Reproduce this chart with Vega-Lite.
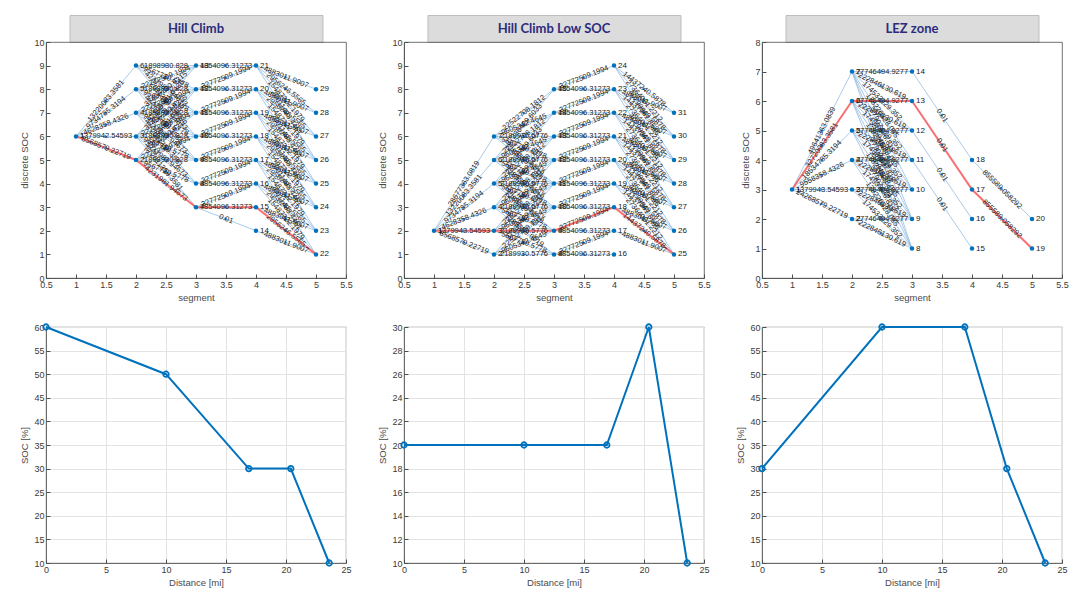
{
  "$schema": "https://vega.github.io/schema/vega-lite/v6.json",
  "background": "white",
  "padding": {"left": 19, "top": 14, "right": 5, "bottom": 5},
  "spacing": 24,
  "datasets": {
    "nodes": [
      {"p":"HC","s":1,"v":6,"id":1},
      {"p":"HC","s":2,"v":5,"id":2},{"p":"HC","s":2,"v":6,"id":3},{"p":"HC","s":2,"v":7,"id":4},{"p":"HC","s":2,"v":8,"id":5},{"p":"HC","s":2,"v":9,"id":6},
      {"p":"HC","s":3,"v":3,"id":7},{"p":"HC","s":3,"v":4,"id":8},{"p":"HC","s":3,"v":5,"id":9},{"p":"HC","s":3,"v":6,"id":10},{"p":"HC","s":3,"v":7,"id":11},{"p":"HC","s":3,"v":8,"id":12},{"p":"HC","s":3,"v":9,"id":13},
      {"p":"HC","s":4,"v":2,"id":14},{"p":"HC","s":4,"v":3,"id":15},{"p":"HC","s":4,"v":4,"id":16},{"p":"HC","s":4,"v":5,"id":17},{"p":"HC","s":4,"v":6,"id":18},{"p":"HC","s":4,"v":7,"id":19},{"p":"HC","s":4,"v":8,"id":20},{"p":"HC","s":4,"v":9,"id":21},
      {"p":"HC","s":5,"v":1,"id":22},{"p":"HC","s":5,"v":2,"id":23},{"p":"HC","s":5,"v":3,"id":24},{"p":"HC","s":5,"v":4,"id":25},{"p":"HC","s":5,"v":5,"id":26},{"p":"HC","s":5,"v":6,"id":27},{"p":"HC","s":5,"v":7,"id":28},{"p":"HC","s":5,"v":8,"id":29},
      {"p":"LS","s":1,"v":2,"id":1},
      {"p":"LS","s":2,"v":1,"id":2},{"p":"LS","s":2,"v":2,"id":3},{"p":"LS","s":2,"v":3,"id":4},{"p":"LS","s":2,"v":4,"id":5},{"p":"LS","s":2,"v":5,"id":6},{"p":"LS","s":2,"v":6,"id":7},
      {"p":"LS","s":3,"v":1,"id":8},{"p":"LS","s":3,"v":2,"id":9},{"p":"LS","s":3,"v":3,"id":10},{"p":"LS","s":3,"v":4,"id":11},{"p":"LS","s":3,"v":5,"id":12},{"p":"LS","s":3,"v":6,"id":13},{"p":"LS","s":3,"v":7,"id":14},{"p":"LS","s":3,"v":8,"id":15},
      {"p":"LS","s":4,"v":1,"id":16},{"p":"LS","s":4,"v":2,"id":17},{"p":"LS","s":4,"v":3,"id":18},{"p":"LS","s":4,"v":4,"id":19},{"p":"LS","s":4,"v":5,"id":20},{"p":"LS","s":4,"v":6,"id":21},{"p":"LS","s":4,"v":7,"id":22},{"p":"LS","s":4,"v":8,"id":23},{"p":"LS","s":4,"v":9,"id":24},
      {"p":"LS","s":5,"v":1,"id":25},{"p":"LS","s":5,"v":2,"id":26},{"p":"LS","s":5,"v":3,"id":27},{"p":"LS","s":5,"v":4,"id":28},{"p":"LS","s":5,"v":5,"id":29},{"p":"LS","s":5,"v":6,"id":30},{"p":"LS","s":5,"v":7,"id":31},
      {"p":"LEZ","s":1,"v":3,"id":1},
      {"p":"LEZ","s":2,"v":2,"id":2},{"p":"LEZ","s":2,"v":3,"id":3},{"p":"LEZ","s":2,"v":4,"id":4},{"p":"LEZ","s":2,"v":5,"id":5},{"p":"LEZ","s":2,"v":6,"id":6},{"p":"LEZ","s":2,"v":7,"id":7},
      {"p":"LEZ","s":3,"v":1,"id":8},{"p":"LEZ","s":3,"v":2,"id":9},{"p":"LEZ","s":3,"v":3,"id":10},{"p":"LEZ","s":3,"v":4,"id":11},{"p":"LEZ","s":3,"v":5,"id":12},{"p":"LEZ","s":3,"v":6,"id":13},{"p":"LEZ","s":3,"v":7,"id":14},
      {"p":"LEZ","s":4,"v":1,"id":15},{"p":"LEZ","s":4,"v":2,"id":16},{"p":"LEZ","s":4,"v":3,"id":17},{"p":"LEZ","s":4,"v":4,"id":18},
      {"p":"LEZ","s":5,"v":1,"id":19},{"p":"LEZ","s":5,"v":2,"id":20}
    ],
    "edges": [
      {"p":"HC","x1":1,"y1":6,"x2":2,"y2":5,"w":"8568579.22719"},
      {"p":"HC","x1":1,"y1":6,"x2":2,"y2":6,"w":"1379942.54593"},
      {"p":"HC","x1":1,"y1":6,"x2":2,"y2":7,"w":"4628358.4326"},
      {"p":"HC","x1":1,"y1":6,"x2":2,"y2":8,"w":"9734785.3194"},
      {"p":"HC","x1":1,"y1":6,"x2":2,"y2":9,"w":"13220083.3581"},
      {"p":"HC","x1":2,"y1":5,"x2":3,"y2":3,"w":"4231981.94673"},
      {"p":"HC","x1":2,"y1":5,"x2":3,"y2":4,"w":"9567720.5778"},
      {"p":"HC","x1":2,"y1":5,"x2":3,"y2":5,"w":"1898930.828"},
      {"p":"HC","x1":2,"y1":5,"x2":3,"y2":6,"w":"22772509.1994"},
      {"p":"HC","x1":2,"y1":5,"x2":3,"y2":7,"w":"37486230.6215"},
      {"p":"HC","x1":2,"y1":5,"x2":3,"y2":8,"w":"52199951.0436"},
      {"p":"HC","x1":2,"y1":6,"x2":3,"y2":3,"w":"2011356.3581"},
      {"p":"HC","x1":2,"y1":6,"x2":3,"y2":4,"w":"4231981.94673"},
      {"p":"HC","x1":2,"y1":6,"x2":3,"y2":5,"w":"9567720.5778"},
      {"p":"HC","x1":2,"y1":6,"x2":3,"y2":6,"w":"1898930.828"},
      {"p":"HC","x1":2,"y1":6,"x2":3,"y2":7,"w":"22772509.1994"},
      {"p":"HC","x1":2,"y1":6,"x2":3,"y2":8,"w":"37486230.6215"},
      {"p":"HC","x1":2,"y1":6,"x2":3,"y2":9,"w":"52199951.0436"},
      {"p":"HC","x1":2,"y1":7,"x2":3,"y2":4,"w":"2011356.3581"},
      {"p":"HC","x1":2,"y1":7,"x2":3,"y2":5,"w":"4231981.94673"},
      {"p":"HC","x1":2,"y1":7,"x2":3,"y2":6,"w":"9567720.5778"},
      {"p":"HC","x1":2,"y1":7,"x2":3,"y2":7,"w":"1898930.828"},
      {"p":"HC","x1":2,"y1":7,"x2":3,"y2":8,"w":"22772509.1994"},
      {"p":"HC","x1":2,"y1":7,"x2":3,"y2":9,"w":"37486230.6215"},
      {"p":"HC","x1":2,"y1":8,"x2":3,"y2":5,"w":"2011356.3581"},
      {"p":"HC","x1":2,"y1":8,"x2":3,"y2":6,"w":"4231981.94673"},
      {"p":"HC","x1":2,"y1":8,"x2":3,"y2":7,"w":"9567720.5778"},
      {"p":"HC","x1":2,"y1":8,"x2":3,"y2":8,"w":"1898930.828"},
      {"p":"HC","x1":2,"y1":8,"x2":3,"y2":9,"w":"22772509.1994"},
      {"p":"HC","x1":2,"y1":9,"x2":3,"y2":6,"w":"2011356.3581"},
      {"p":"HC","x1":2,"y1":9,"x2":3,"y2":7,"w":"4231981.94673"},
      {"p":"HC","x1":2,"y1":9,"x2":3,"y2":8,"w":"9567720.5778"},
      {"p":"HC","x1":2,"y1":9,"x2":3,"y2":9,"w":"1898930.828"},
      {"p":"HC","x1":3,"y1":3,"x2":4,"y2":2,"w":"0.01"},
      {"p":"HC","x1":3,"y1":3,"x2":4,"y2":3,"w":"4854096.31273"},
      {"p":"HC","x1":3,"y1":3,"x2":4,"y2":4,"w":"32772509.1994"},
      {"p":"HC","x1":3,"y1":4,"x2":4,"y2":4,"w":"4854096.31273"},
      {"p":"HC","x1":3,"y1":4,"x2":4,"y2":5,"w":"32772509.1994"},
      {"p":"HC","x1":3,"y1":5,"x2":4,"y2":5,"w":"4854096.31273"},
      {"p":"HC","x1":3,"y1":5,"x2":4,"y2":6,"w":"32772509.1994"},
      {"p":"HC","x1":3,"y1":6,"x2":4,"y2":6,"w":"4854096.31273"},
      {"p":"HC","x1":3,"y1":6,"x2":4,"y2":7,"w":"32772509.1994"},
      {"p":"HC","x1":3,"y1":7,"x2":4,"y2":7,"w":"4854096.31273"},
      {"p":"HC","x1":3,"y1":7,"x2":4,"y2":8,"w":"32772509.1994"},
      {"p":"HC","x1":3,"y1":8,"x2":4,"y2":8,"w":"4854096.31273"},
      {"p":"HC","x1":3,"y1":8,"x2":4,"y2":9,"w":"32772509.1994"},
      {"p":"HC","x1":3,"y1":9,"x2":4,"y2":9,"w":"4854096.31273"},
      {"p":"HC","x1":4,"y1":2,"x2":5,"y2":1,"w":"4883011.9007"},
      {"p":"HC","x1":4,"y1":3,"x2":5,"y2":2,"w":"4883011.9007"},
      {"p":"HC","x1":4,"y1":3,"x2":5,"y2":1,"w":"2956246.5565"},
      {"p":"HC","x1":4,"y1":4,"x2":5,"y2":3,"w":"4883011.9007"},
      {"p":"HC","x1":4,"y1":4,"x2":5,"y2":2,"w":"2956246.5565"},
      {"p":"HC","x1":4,"y1":4,"x2":5,"y2":1,"w":"15487322.1979"},
      {"p":"HC","x1":4,"y1":5,"x2":5,"y2":4,"w":"4883011.9007"},
      {"p":"HC","x1":4,"y1":5,"x2":5,"y2":3,"w":"2956246.5565"},
      {"p":"HC","x1":4,"y1":5,"x2":5,"y2":2,"w":"15487322.1979"},
      {"p":"HC","x1":4,"y1":5,"x2":5,"y2":1,"w":"28011433.4461"},
      {"p":"HC","x1":4,"y1":6,"x2":5,"y2":5,"w":"4883011.9007"},
      {"p":"HC","x1":4,"y1":6,"x2":5,"y2":4,"w":"2956246.5565"},
      {"p":"HC","x1":4,"y1":6,"x2":5,"y2":3,"w":"15487322.1979"},
      {"p":"HC","x1":4,"y1":6,"x2":5,"y2":2,"w":"28011433.4461"},
      {"p":"HC","x1":4,"y1":7,"x2":5,"y2":6,"w":"4883011.9007"},
      {"p":"HC","x1":4,"y1":7,"x2":5,"y2":5,"w":"2956246.5565"},
      {"p":"HC","x1":4,"y1":7,"x2":5,"y2":4,"w":"15487322.1979"},
      {"p":"HC","x1":4,"y1":7,"x2":5,"y2":3,"w":"28011433.4461"},
      {"p":"HC","x1":4,"y1":8,"x2":5,"y2":7,"w":"4883011.9007"},
      {"p":"HC","x1":4,"y1":8,"x2":5,"y2":6,"w":"2956246.5565"},
      {"p":"HC","x1":4,"y1":8,"x2":5,"y2":5,"w":"15487322.1979"},
      {"p":"HC","x1":4,"y1":8,"x2":5,"y2":4,"w":"28011433.4461"},
      {"p":"HC","x1":4,"y1":9,"x2":5,"y2":8,"w":"4883011.9007"},
      {"p":"HC","x1":4,"y1":9,"x2":5,"y2":7,"w":"2956246.5565"},
      {"p":"HC","x1":4,"y1":9,"x2":5,"y2":6,"w":"15487322.1979"},
      {"p":"HC","x1":4,"y1":9,"x2":5,"y2":5,"w":"28011433.4461"},

      {"p":"LS","x1":1,"y1":2,"x2":2,"y2":1,"w":"8568579.22719"},
      {"p":"LS","x1":1,"y1":2,"x2":2,"y2":2,"w":"1379943.54593"},
      {"p":"LS","x1":1,"y1":2,"x2":2,"y2":3,"w":"4628358.4326"},
      {"p":"LS","x1":1,"y1":2,"x2":2,"y2":4,"w":"9734785.3194"},
      {"p":"LS","x1":1,"y1":2,"x2":2,"y2":5,"w":"13220083.3581"},
      {"p":"LS","x1":1,"y1":2,"x2":2,"y2":6,"w":"28677363.0819"},
      {"p":"LS","x1":2,"y1":1,"x2":3,"y2":1,"w":"2189930.5776"},
      {"p":"LS","x1":2,"y1":1,"x2":3,"y2":2,"w":"9605342.4645"},
      {"p":"LS","x1":2,"y1":1,"x2":3,"y2":3,"w":"22522708.1812"},
      {"p":"LS","x1":2,"y1":1,"x2":3,"y2":4,"w":"37236429.6033"},
      {"p":"LS","x1":2,"y1":2,"x2":3,"y2":1,"w":"5567720.5778"},
      {"p":"LS","x1":2,"y1":2,"x2":3,"y2":2,"w":"2189930.5776"},
      {"p":"LS","x1":2,"y1":2,"x2":3,"y2":3,"w":"9605342.4645"},
      {"p":"LS","x1":2,"y1":2,"x2":3,"y2":4,"w":"22522708.1812"},
      {"p":"LS","x1":2,"y1":2,"x2":3,"y2":5,"w":"37236429.6033"},
      {"p":"LS","x1":2,"y1":3,"x2":3,"y2":1,"w":"1283359.0019"},
      {"p":"LS","x1":2,"y1":3,"x2":3,"y2":2,"w":"5567720.5778"},
      {"p":"LS","x1":2,"y1":3,"x2":3,"y2":3,"w":"2189930.5776"},
      {"p":"LS","x1":2,"y1":3,"x2":3,"y2":4,"w":"9605342.4645"},
      {"p":"LS","x1":2,"y1":3,"x2":3,"y2":5,"w":"22522708.1812"},
      {"p":"LS","x1":2,"y1":3,"x2":3,"y2":6,"w":"37236429.6033"},
      {"p":"LS","x1":2,"y1":4,"x2":3,"y2":2,"w":"1283359.0019"},
      {"p":"LS","x1":2,"y1":4,"x2":3,"y2":3,"w":"5567720.5778"},
      {"p":"LS","x1":2,"y1":4,"x2":3,"y2":4,"w":"2189930.5776"},
      {"p":"LS","x1":2,"y1":4,"x2":3,"y2":5,"w":"9605342.4645"},
      {"p":"LS","x1":2,"y1":4,"x2":3,"y2":6,"w":"22522708.1812"},
      {"p":"LS","x1":2,"y1":4,"x2":3,"y2":7,"w":"37236429.6033"},
      {"p":"LS","x1":2,"y1":5,"x2":3,"y2":3,"w":"1283359.0019"},
      {"p":"LS","x1":2,"y1":5,"x2":3,"y2":4,"w":"5567720.5778"},
      {"p":"LS","x1":2,"y1":5,"x2":3,"y2":5,"w":"2189930.5776"},
      {"p":"LS","x1":2,"y1":5,"x2":3,"y2":6,"w":"9605342.4645"},
      {"p":"LS","x1":2,"y1":5,"x2":3,"y2":7,"w":"22522708.1812"},
      {"p":"LS","x1":2,"y1":5,"x2":3,"y2":8,"w":"37236429.6033"},
      {"p":"LS","x1":2,"y1":6,"x2":3,"y2":4,"w":"1283359.0019"},
      {"p":"LS","x1":2,"y1":6,"x2":3,"y2":5,"w":"5567720.5778"},
      {"p":"LS","x1":2,"y1":6,"x2":3,"y2":6,"w":"2189930.5776"},
      {"p":"LS","x1":2,"y1":6,"x2":3,"y2":7,"w":"9605342.4645"},
      {"p":"LS","x1":2,"y1":6,"x2":3,"y2":8,"w":"22522708.1812"},
      {"p":"LS","x1":3,"y1":1,"x2":4,"y2":1,"w":"4854096.31273"},
      {"p":"LS","x1":3,"y1":1,"x2":4,"y2":2,"w":"32772509.1994"},
      {"p":"LS","x1":3,"y1":2,"x2":4,"y2":2,"w":"4854096.31273"},
      {"p":"LS","x1":3,"y1":2,"x2":4,"y2":3,"w":"32772509.1994"},
      {"p":"LS","x1":3,"y1":3,"x2":4,"y2":3,"w":"4854096.31273"},
      {"p":"LS","x1":3,"y1":3,"x2":4,"y2":4,"w":"32772509.1994"},
      {"p":"LS","x1":3,"y1":4,"x2":4,"y2":4,"w":"4854096.31273"},
      {"p":"LS","x1":3,"y1":4,"x2":4,"y2":5,"w":"32772509.1994"},
      {"p":"LS","x1":3,"y1":5,"x2":4,"y2":5,"w":"4854096.31273"},
      {"p":"LS","x1":3,"y1":5,"x2":4,"y2":6,"w":"32772509.1994"},
      {"p":"LS","x1":3,"y1":6,"x2":4,"y2":6,"w":"4854096.31273"},
      {"p":"LS","x1":3,"y1":6,"x2":4,"y2":7,"w":"32772509.1994"},
      {"p":"LS","x1":3,"y1":7,"x2":4,"y2":7,"w":"4854096.31273"},
      {"p":"LS","x1":3,"y1":7,"x2":4,"y2":8,"w":"32772509.1994"},
      {"p":"LS","x1":3,"y1":8,"x2":4,"y2":8,"w":"4854096.31273"},
      {"p":"LS","x1":3,"y1":8,"x2":4,"y2":9,"w":"32772509.1994"},
      {"p":"LS","x1":4,"y1":2,"x2":5,"y2":1,"w":"4883011.9007"},
      {"p":"LS","x1":4,"y1":3,"x2":5,"y2":2,"w":"4883011.9007"},
      {"p":"LS","x1":4,"y1":3,"x2":5,"y2":1,"w":"14437240.5878"},
      {"p":"LS","x1":4,"y1":4,"x2":5,"y2":3,"w":"4883011.9007"},
      {"p":"LS","x1":4,"y1":4,"x2":5,"y2":2,"w":"14437240.5878"},
      {"p":"LS","x1":4,"y1":4,"x2":5,"y2":1,"w":"27364051.2212"},
      {"p":"LS","x1":4,"y1":5,"x2":5,"y2":4,"w":"4883011.9007"},
      {"p":"LS","x1":4,"y1":5,"x2":5,"y2":3,"w":"14437240.5878"},
      {"p":"LS","x1":4,"y1":5,"x2":5,"y2":2,"w":"27364051.2212"},
      {"p":"LS","x1":4,"y1":5,"x2":5,"y2":1,"w":"40290861.8546"},
      {"p":"LS","x1":4,"y1":6,"x2":5,"y2":5,"w":"4883011.9007"},
      {"p":"LS","x1":4,"y1":6,"x2":5,"y2":4,"w":"14437240.5878"},
      {"p":"LS","x1":4,"y1":6,"x2":5,"y2":3,"w":"27364051.2212"},
      {"p":"LS","x1":4,"y1":6,"x2":5,"y2":2,"w":"40290861.8546"},
      {"p":"LS","x1":4,"y1":7,"x2":5,"y2":6,"w":"4883011.9007"},
      {"p":"LS","x1":4,"y1":7,"x2":5,"y2":5,"w":"14437240.5878"},
      {"p":"LS","x1":4,"y1":7,"x2":5,"y2":4,"w":"27364051.2212"},
      {"p":"LS","x1":4,"y1":7,"x2":5,"y2":3,"w":"40290861.8546"},
      {"p":"LS","x1":4,"y1":8,"x2":5,"y2":7,"w":"4883011.9007"},
      {"p":"LS","x1":4,"y1":8,"x2":5,"y2":6,"w":"14437240.5878"},
      {"p":"LS","x1":4,"y1":8,"x2":5,"y2":5,"w":"27364051.2212"},
      {"p":"LS","x1":4,"y1":8,"x2":5,"y2":4,"w":"40290861.8546"},
      {"p":"LS","x1":4,"y1":9,"x2":5,"y2":7,"w":"14437240.5878"},
      {"p":"LS","x1":4,"y1":9,"x2":5,"y2":6,"w":"27364051.2212"},
      {"p":"LS","x1":4,"y1":9,"x2":5,"y2":5,"w":"40290861.8546"},

      {"p":"LEZ","x1":1,"y1":3,"x2":2,"y2":2,"w":"24268579.22719"},
      {"p":"LEZ","x1":1,"y1":3,"x2":2,"y2":3,"w":"1379943.54593"},
      {"p":"LEZ","x1":1,"y1":3,"x2":2,"y2":4,"w":"9558358.4326"},
      {"p":"LEZ","x1":1,"y1":3,"x2":2,"y2":5,"w":"18534785.3194"},
      {"p":"LEZ","x1":1,"y1":3,"x2":2,"y2":6,"w":"32720083.3581"},
      {"p":"LEZ","x1":1,"y1":3,"x2":2,"y2":7,"w":"49641363.0839"},
      {"p":"LEZ","x1":2,"y1":2,"x2":3,"y2":2,"w":"27746494.9277"},
      {"p":"LEZ","x1":2,"y1":2,"x2":3,"y2":1,"w":"222846130.619"},
      {"p":"LEZ","x1":2,"y1":3,"x2":3,"y2":3,"w":"27746494.9277"},
      {"p":"LEZ","x1":2,"y1":3,"x2":3,"y2":2,"w":"222846130.619"},
      {"p":"LEZ","x1":2,"y1":3,"x2":3,"y2":1,"w":"174533229.352"},
      {"p":"LEZ","x1":2,"y1":4,"x2":3,"y2":4,"w":"27746494.9277"},
      {"p":"LEZ","x1":2,"y1":4,"x2":3,"y2":3,"w":"222846130.619"},
      {"p":"LEZ","x1":2,"y1":4,"x2":3,"y2":2,"w":"174533229.352"},
      {"p":"LEZ","x1":2,"y1":4,"x2":3,"y2":1,"w":"126220328.085"},
      {"p":"LEZ","x1":2,"y1":5,"x2":3,"y2":5,"w":"27746494.9277"},
      {"p":"LEZ","x1":2,"y1":5,"x2":3,"y2":4,"w":"222846130.619"},
      {"p":"LEZ","x1":2,"y1":5,"x2":3,"y2":3,"w":"174533229.352"},
      {"p":"LEZ","x1":2,"y1":5,"x2":3,"y2":2,"w":"126220328.085"},
      {"p":"LEZ","x1":2,"y1":5,"x2":3,"y2":1,"w":"77907426.818"},
      {"p":"LEZ","x1":2,"y1":6,"x2":3,"y2":6,"w":"27746494.9277"},
      {"p":"LEZ","x1":2,"y1":6,"x2":3,"y2":5,"w":"222846130.619"},
      {"p":"LEZ","x1":2,"y1":6,"x2":3,"y2":4,"w":"174533229.352"},
      {"p":"LEZ","x1":2,"y1":6,"x2":3,"y2":3,"w":"126220328.085"},
      {"p":"LEZ","x1":2,"y1":6,"x2":3,"y2":2,"w":"77907426.818"},
      {"p":"LEZ","x1":2,"y1":6,"x2":3,"y2":1,"w":"29594525.551"},
      {"p":"LEZ","x1":2,"y1":7,"x2":3,"y2":7,"w":"27746494.9277"},
      {"p":"LEZ","x1":2,"y1":7,"x2":3,"y2":6,"w":"222846130.619"},
      {"p":"LEZ","x1":2,"y1":7,"x2":3,"y2":5,"w":"174533229.352"},
      {"p":"LEZ","x1":2,"y1":7,"x2":3,"y2":4,"w":"126220328.085"},
      {"p":"LEZ","x1":2,"y1":7,"x2":3,"y2":3,"w":"77907426.818"},
      {"p":"LEZ","x1":2,"y1":7,"x2":3,"y2":2,"w":"29594525.551"},
      {"p":"LEZ","x1":2,"y1":7,"x2":3,"y2":1,"w":"0.01"},
      {"p":"LEZ","x1":3,"y1":7,"x2":4,"y2":4,"w":"0.01"},
      {"p":"LEZ","x1":3,"y1":6,"x2":4,"y2":3,"w":"0.01"},
      {"p":"LEZ","x1":3,"y1":5,"x2":4,"y2":2,"w":"0.01"},
      {"p":"LEZ","x1":3,"y1":4,"x2":4,"y2":1,"w":"0.01"},
      {"p":"LEZ","x1":4,"y1":4,"x2":5,"y2":2,"w":"855589.058292"},
      {"p":"LEZ","x1":4,"y1":3,"x2":5,"y2":1,"w":"855589.058292"}
    ],
    "path": [
      {"p":"HC","seg":1,"soc":6,"dist":0,"pct":60},
      {"p":"HC","seg":2,"soc":5,"dist":10,"pct":50},
      {"p":"HC","seg":3,"soc":3,"dist":16.9,"pct":30},
      {"p":"HC","seg":4,"soc":3,"dist":20.4,"pct":30},
      {"p":"HC","seg":5,"soc":1,"dist":23.6,"pct":10},
      {"p":"LS","seg":1,"soc":2,"dist":0,"pct":20},
      {"p":"LS","seg":2,"soc":2,"dist":10,"pct":20},
      {"p":"LS","seg":3,"soc":2,"dist":16.9,"pct":20},
      {"p":"LS","seg":4,"soc":3,"dist":20.4,"pct":30},
      {"p":"LS","seg":5,"soc":1,"dist":23.6,"pct":10},
      {"p":"LEZ","seg":1,"soc":3,"dist":0,"pct":30},
      {"p":"LEZ","seg":2,"soc":6,"dist":10,"pct":60},
      {"p":"LEZ","seg":3,"soc":6,"dist":16.9,"pct":60},
      {"p":"LEZ","seg":4,"soc":3,"dist":20.4,"pct":30},
      {"p":"LEZ","seg":5,"soc":1,"dist":23.6,"pct":10}
    ]
  },
  "hconcat": [
    {
      "spacing": 18,
      "vconcat": [
        {
          "spacing": 0, "center": true, "bounds": "flush",
          "vconcat": [
            {"width": 253, "height": 27, "data": {"values": [{"t": "Hill Climb"}]},
             "view": {"fill": "#dcdcdc", "stroke": "#bdbdbd", "strokeWidth": 1},
             "mark": {"type": "text", "font": "Lato", "fontWeight": "bold", "fontSize": 13, "color": "#2c2c7c"},
             "encoding": {"text": {"field": "t"}}},
            {"width": 300, "height": 236,
             "layer": [
               {"data": {"name": "edges"}, "transform": [{"filter": "datum.p == 'HC'"}],
                "mark": {"type": "rule", "color": "#93bde3", "strokeWidth": 0.8},
                "encoding": {
                  "x": {"field": "x1", "type": "quantitative", "title": "segment", "scale": {"domain": [0.5, 5.5]}, "axis": {"values": [0.5,1,1.5,2,2.5,3,3.5,4,4.5,5,5.5], "format": "~g", "labelOverlap": false}},
                  "y": {"field": "y1", "type": "quantitative", "title": "discrete SOC", "scale": {"domain": [0, 10]}, "axis": {"values": [0,1,2,3,4,5,6,7,8,9,10], "labelOverlap": false}},
                  "x2": {"field": "x2"}, "y2": {"field": "y2"}}},
               {"data": {"name": "path"}, "transform": [{"filter": "datum.p == 'HC'"}],
                "mark": {"type": "line", "color": "#ff5c5c", "strokeWidth": 2, "opacity": 0.85},
                "encoding": {
                  "x": {"field": "seg", "type": "quantitative", "title": "segment", "axis": {"values": [0.5,1,1.5,2,2.5,3,3.5,4,4.5,5,5.5], "format": "~g", "labelOverlap": false}},
                  "y": {"field": "soc", "type": "quantitative", "title": "discrete SOC", "axis": {"values": [0,1,2,3,4,5,6,7,8,9,10], "labelOverlap": false}}}},
               {"data": {"name": "edges"},
                "transform": [{"filter": "datum.p == 'HC'"}, {"calculate": "(datum.x1 + datum.x2) / 2", "as": "mx"}, {"calculate": "(datum.y1 + datum.y2) / 2", "as": "my"}, {"calculate": "-atan2((datum.y2 - datum.y1) * 23.6, (datum.x2 - datum.x1) * 60) * 180 / PI", "as": "ang"}],
                "encoding": {
                  "x": {"field": "mx", "type": "quantitative", "title": "segment", "axis": {"values": [0.5,1,1.5,2,2.5,3,3.5,4,4.5,5,5.5], "format": "~g", "labelOverlap": false}},
                  "y": {"field": "my", "type": "quantitative", "title": "discrete SOC", "axis": {"values": [0,1,2,3,4,5,6,7,8,9,10], "labelOverlap": false}},
                  "angle": {"field": "ang", "type": "quantitative", "scale": null}},
                "layer": [
                  {"mark": {"type": "point", "shape": "triangle-right", "filled": true, "color": "#3d8bd0", "size": 14, "opacity": 1}},
                  {"mark": {"type": "text", "fontSize": 7.5, "color": "#222222"}, "encoding": {"text": {"field": "w"}}}
                ]},
               {"data": {"name": "nodes"}, "transform": [{"filter": "datum.p == 'HC'"}],
                "encoding": {
                  "x": {"field": "s", "type": "quantitative", "title": "segment", "axis": {"values": [0.5,1,1.5,2,2.5,3,3.5,4,4.5,5,5.5], "format": "~g", "labelOverlap": false}},
                  "y": {"field": "v", "type": "quantitative", "title": "discrete SOC", "axis": {"values": [0,1,2,3,4,5,6,7,8,9,10], "labelOverlap": false}}},
                "layer": [
                  {"mark": {"type": "point", "shape": "circle", "filled": true, "color": "#0072BD", "size": 20, "opacity": 1}},
                  {"mark": {"type": "text", "align": "left", "dx": 4, "fontSize": 8, "color": "#1a1a1a"}, "encoding": {"text": {"field": "id"}}}
                ]}
             ]}
          ]
        },
        {"width": 300, "height": 236,
         "data": {"name": "path"}, "transform": [{"filter": "datum.p == 'HC'"}],
         "encoding": {
           "x": {"field": "dist", "type": "quantitative", "title": "Distance [mi]", "scale": {"domain": [0, 25]}, "axis": {"values": [0,5,10,15,20,25], "grid": true, "labelOverlap": false}},
           "y": {"field": "pct", "type": "quantitative", "title": "SOC [%]", "scale": {"domain": [10, 60]}, "axis": {"values": [10,15,20,25,30,35,40,45,50,55,60], "grid": true, "labelOverlap": false}}},
         "layer": [
           {"mark": {"type": "line", "color": "#0072BD", "strokeWidth": 2}},
           {"mark": {"type": "point", "filled": false, "color": "#0072BD", "strokeWidth": 1.8, "size": 30, "opacity": 1}}
         ]}
      ]
    },
    {
      "spacing": 18,
      "vconcat": [
        {
          "spacing": 0, "center": true, "bounds": "flush",
          "vconcat": [
            {"width": 253, "height": 27, "data": {"values": [{"t": "Hill Climb Low SOC"}]},
             "view": {"fill": "#dcdcdc", "stroke": "#bdbdbd", "strokeWidth": 1},
             "mark": {"type": "text", "font": "Lato", "fontWeight": "bold", "fontSize": 13, "color": "#2c2c7c"},
             "encoding": {"text": {"field": "t"}}},
            {"width": 300, "height": 236,
             "layer": [
               {"data": {"name": "edges"}, "transform": [{"filter": "datum.p == 'LS'"}],
                "mark": {"type": "rule", "color": "#93bde3", "strokeWidth": 0.8},
                "encoding": {
                  "x": {"field": "x1", "type": "quantitative", "title": "segment", "scale": {"domain": [0.5, 5.5]}, "axis": {"values": [0.5,1,1.5,2,2.5,3,3.5,4,4.5,5,5.5], "format": "~g", "labelOverlap": false}},
                  "y": {"field": "y1", "type": "quantitative", "title": "discrete SOC", "scale": {"domain": [0, 10]}, "axis": {"values": [0,1,2,3,4,5,6,7,8,9,10], "labelOverlap": false}},
                  "x2": {"field": "x2"}, "y2": {"field": "y2"}}},
               {"data": {"name": "path"}, "transform": [{"filter": "datum.p == 'LS'"}],
                "mark": {"type": "line", "color": "#ff5c5c", "strokeWidth": 2, "opacity": 0.85},
                "encoding": {
                  "x": {"field": "seg", "type": "quantitative", "title": "segment", "axis": {"values": [0.5,1,1.5,2,2.5,3,3.5,4,4.5,5,5.5], "format": "~g", "labelOverlap": false}},
                  "y": {"field": "soc", "type": "quantitative", "title": "discrete SOC", "axis": {"values": [0,1,2,3,4,5,6,7,8,9,10], "labelOverlap": false}}}},
               {"data": {"name": "edges"},
                "transform": [{"filter": "datum.p == 'LS'"}, {"calculate": "(datum.x1 + datum.x2) / 2", "as": "mx"}, {"calculate": "(datum.y1 + datum.y2) / 2", "as": "my"}, {"calculate": "-atan2((datum.y2 - datum.y1) * 23.6, (datum.x2 - datum.x1) * 60) * 180 / PI", "as": "ang"}],
                "encoding": {
                  "x": {"field": "mx", "type": "quantitative", "title": "segment", "axis": {"values": [0.5,1,1.5,2,2.5,3,3.5,4,4.5,5,5.5], "format": "~g", "labelOverlap": false}},
                  "y": {"field": "my", "type": "quantitative", "title": "discrete SOC", "axis": {"values": [0,1,2,3,4,5,6,7,8,9,10], "labelOverlap": false}},
                  "angle": {"field": "ang", "type": "quantitative", "scale": null}},
                "layer": [
                  {"mark": {"type": "point", "shape": "triangle-right", "filled": true, "color": "#3d8bd0", "size": 14, "opacity": 1}},
                  {"mark": {"type": "text", "fontSize": 7.5, "color": "#222222"}, "encoding": {"text": {"field": "w"}}}
                ]},
               {"data": {"name": "nodes"}, "transform": [{"filter": "datum.p == 'LS'"}],
                "encoding": {
                  "x": {"field": "s", "type": "quantitative", "title": "segment", "axis": {"values": [0.5,1,1.5,2,2.5,3,3.5,4,4.5,5,5.5], "format": "~g", "labelOverlap": false}},
                  "y": {"field": "v", "type": "quantitative", "title": "discrete SOC", "axis": {"values": [0,1,2,3,4,5,6,7,8,9,10], "labelOverlap": false}}},
                "layer": [
                  {"mark": {"type": "point", "shape": "circle", "filled": true, "color": "#0072BD", "size": 20, "opacity": 1}},
                  {"mark": {"type": "text", "align": "left", "dx": 4, "fontSize": 8, "color": "#1a1a1a"}, "encoding": {"text": {"field": "id"}}}
                ]}
             ]}
          ]
        },
        {"width": 300, "height": 236,
         "data": {"name": "path"}, "transform": [{"filter": "datum.p == 'LS'"}],
         "encoding": {
           "x": {"field": "dist", "type": "quantitative", "title": "Distance [mi]", "scale": {"domain": [0, 25]}, "axis": {"values": [0,5,10,15,20,25], "grid": true, "labelOverlap": false}},
           "y": {"field": "pct", "type": "quantitative", "title": "SOC [%]", "scale": {"domain": [10, 30]}, "axis": {"values": [10,12,14,16,18,20,22,24,26,28,30], "grid": true, "labelOverlap": false}}},
         "layer": [
           {"mark": {"type": "line", "color": "#0072BD", "strokeWidth": 2}},
           {"mark": {"type": "point", "filled": false, "color": "#0072BD", "strokeWidth": 1.8, "size": 30, "opacity": 1}}
         ]}
      ]
    },
    {
      "spacing": 18,
      "vconcat": [
        {
          "spacing": 0, "center": true, "bounds": "flush",
          "vconcat": [
            {"width": 253, "height": 27, "data": {"values": [{"t": "LEZ zone"}]},
             "view": {"fill": "#dcdcdc", "stroke": "#bdbdbd", "strokeWidth": 1},
             "mark": {"type": "text", "font": "Lato", "fontWeight": "bold", "fontSize": 13, "color": "#2c2c7c"},
             "encoding": {"text": {"field": "t"}}},
            {"width": 300, "height": 236,
             "layer": [
               {"data": {"name": "edges"}, "transform": [{"filter": "datum.p == 'LEZ'"}],
                "mark": {"type": "rule", "color": "#93bde3", "strokeWidth": 0.8},
                "encoding": {
                  "x": {"field": "x1", "type": "quantitative", "title": "segment", "scale": {"domain": [0.5, 5.5]}, "axis": {"values": [0.5,1,1.5,2,2.5,3,3.5,4,4.5,5,5.5], "format": "~g", "labelOverlap": false}},
                  "y": {"field": "y1", "type": "quantitative", "title": "discrete SOC", "scale": {"domain": [0, 8]}, "axis": {"values": [0,1,2,3,4,5,6,7,8], "labelOverlap": false}},
                  "x2": {"field": "x2"}, "y2": {"field": "y2"}}},
               {"data": {"name": "path"}, "transform": [{"filter": "datum.p == 'LEZ'"}],
                "mark": {"type": "line", "color": "#ff5c5c", "strokeWidth": 2, "opacity": 0.85},
                "encoding": {
                  "x": {"field": "seg", "type": "quantitative", "title": "segment", "axis": {"values": [0.5,1,1.5,2,2.5,3,3.5,4,4.5,5,5.5], "format": "~g", "labelOverlap": false}},
                  "y": {"field": "soc", "type": "quantitative", "title": "discrete SOC", "axis": {"values": [0,1,2,3,4,5,6,7,8], "labelOverlap": false}}}},
               {"data": {"name": "edges"},
                "transform": [{"filter": "datum.p == 'LEZ'"}, {"calculate": "(datum.x1 + datum.x2) / 2", "as": "mx"}, {"calculate": "(datum.y1 + datum.y2) / 2", "as": "my"}, {"calculate": "-atan2((datum.y2 - datum.y1) * 29.5, (datum.x2 - datum.x1) * 60) * 180 / PI", "as": "ang"}],
                "encoding": {
                  "x": {"field": "mx", "type": "quantitative", "title": "segment", "axis": {"values": [0.5,1,1.5,2,2.5,3,3.5,4,4.5,5,5.5], "format": "~g", "labelOverlap": false}},
                  "y": {"field": "my", "type": "quantitative", "title": "discrete SOC", "axis": {"values": [0,1,2,3,4,5,6,7,8], "labelOverlap": false}},
                  "angle": {"field": "ang", "type": "quantitative", "scale": null}},
                "layer": [
                  {"mark": {"type": "point", "shape": "triangle-right", "filled": true, "color": "#3d8bd0", "size": 14, "opacity": 1}},
                  {"mark": {"type": "text", "fontSize": 7.5, "color": "#222222"}, "encoding": {"text": {"field": "w"}}}
                ]},
               {"data": {"name": "nodes"}, "transform": [{"filter": "datum.p == 'LEZ'"}],
                "encoding": {
                  "x": {"field": "s", "type": "quantitative", "title": "segment", "axis": {"values": [0.5,1,1.5,2,2.5,3,3.5,4,4.5,5,5.5], "format": "~g", "labelOverlap": false}},
                  "y": {"field": "v", "type": "quantitative", "title": "discrete SOC", "axis": {"values": [0,1,2,3,4,5,6,7,8], "labelOverlap": false}}},
                "layer": [
                  {"mark": {"type": "point", "shape": "circle", "filled": true, "color": "#0072BD", "size": 20, "opacity": 1}},
                  {"mark": {"type": "text", "align": "left", "dx": 4, "fontSize": 8, "color": "#1a1a1a"}, "encoding": {"text": {"field": "id"}}}
                ]}
             ]}
          ]
        },
        {"width": 300, "height": 236,
         "data": {"name": "path"}, "transform": [{"filter": "datum.p == 'LEZ'"}],
         "encoding": {
           "x": {"field": "dist", "type": "quantitative", "title": "Distance [mi]", "scale": {"domain": [0, 25]}, "axis": {"values": [0,5,10,15,20,25], "grid": true, "labelOverlap": false}},
           "y": {"field": "pct", "type": "quantitative", "title": "SOC [%]", "scale": {"domain": [10, 60]}, "axis": {"values": [10,15,20,25,30,35,40,45,50,55,60], "grid": true, "labelOverlap": false}}},
         "layer": [
           {"mark": {"type": "line", "color": "#0072BD", "strokeWidth": 2}},
           {"mark": {"type": "point", "filled": false, "color": "#0072BD", "strokeWidth": 1.8, "size": 30, "opacity": 1}}
         ]}
      ]
    }
  ],
  "config": {
    "font": "Liberation Sans",
    "view": {"stroke": "#4d4d4d", "strokeWidth": 0.8},
    "axis": {"labelFontSize": 9, "labelColor": "#3a3a3a", "titleFontSize": 9.5, "titleFontWeight": "normal", "titleColor": "#4a4a4a", "domainColor": "#4d4d4d", "domainWidth": 0.8, "tickColor": "#4d4d4d", "tickSize": -4, "labelPadding": 6, "grid": false, "gridColor": "#e3e3e3", "labelOverlap": false, "labelFlush": false},
    "axisY": {"titlePadding": 4},
    "axisX": {"titlePadding": 3}
  }
}
